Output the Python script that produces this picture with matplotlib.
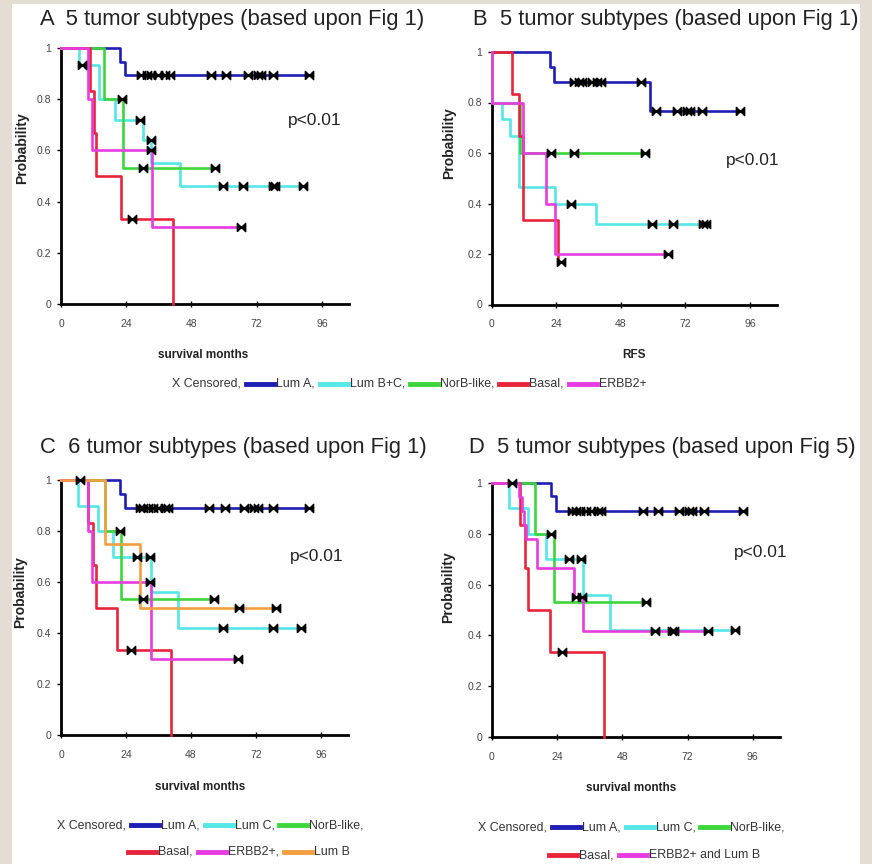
import numpy as np
import matplotlib.pyplot as plt
from matplotlib.lines import Line2D
from matplotlib.patches import Rectangle
from matplotlib.path import Path

plt.rcParams['font.family'] = ['Liberation Sans', 'DejaVu Sans']

W, H = 872, 864

# ---- data ----
month_ticks = [0, 24, 48, 72, 96]
prob_ticks = [0, 0.2, 0.4, 0.6, 0.8, 1.0]
prob_labels = ['0', '0.2', '0.4', '0.6', '0.8', '1']

colors5 = ['#1E1EB4', '#55E6E6', '#3CD63C', '#E8243C', '#E63CE0']
colors6 = colors5 + ['#F0A040']

# A: overall survival, 5 subtypes (Lum A, Lum B+C, NorB-like, Basal, ERBB2+)
A_times = [[0, 21.7, 23.5],
           [0, 6.5, 14, 20, 30.2, 33.3, 43.7],
           [0, 16, 23],
           [0, 10.5, 12, 13, 22, 41.2],
           [0, 10, 11.5, 33.5]]
A_surv = [[1, 0.947, 0.893],
          [1, 0.933, 0.8, 0.72, 0.64, 0.55, 0.46],
          [1, 0.8, 0.533],
          [1, 0.833, 0.667, 0.5, 0.333, 0],
          [1, 0.8, 0.6, 0.3]]
A_cens = [[29.6, 31.5, 33.3, 35.7, 38.2, 40.0, 55.3, 60.8, 68.8, 72.5, 73.7, 78.0, 91.4],
          [7.6, 29, 33, 59.6, 67, 78, 78.8, 89],
          [22.3, 30.2, 56.5],
          [26],
          [33, 66.3]]

# B: relapse free survival, same 5 subtypes
B_times = [[0, 21.8, 23.2, 58.8],
           [0, 0, 3.7, 6.8, 10, 23.4, 38.6],
           [0, 0, 10.5],
           [0, 7.5, 10, 11.5, 24.7],
           [0, 0, 11.5, 20.3, 23.4]]
B_surv = [[1, 0.941, 0.882, 0.765],
          [1, 0.8, 0.733, 0.667, 0.467, 0.4, 0.32],
          [1, 0.8, 0.6],
          [1, 0.833, 0.667, 0.333, 0.167],
          [1, 0.8, 0.6, 0.4, 0.2]]
B_cens = [[30.5, 32.4, 33.6, 37.4, 39.2, 40.5, 55.4, 61, 68.7, 72.6, 73.7, 78.2, 92.2],
          [29.3, 59.4, 67.2, 78.5, 79.7],
          [22.2, 30.5, 57],
          [25.9],
          [65.4]]

# C: 6 subtypes (Lum A, Lum C, NorB-like, Basal, ERBB2+, Lum B)
C_times = [[0, 21.7, 23.5],
           [0, 6.1, 13.7, 19.3, 33.4, 43.2],
           [0, 16.2, 22.3],
           [0, 10, 12, 13.1, 20.5, 40.7],
           [0, 10, 11.5, 33.4],
           [0, 16.2, 29]]
C_surv = [[1, 0.947, 0.889],
          [1, 0.9, 0.8, 0.7, 0.56, 0.42],
          [1, 0.8, 0.533],
          [1, 0.833, 0.667, 0.5, 0.333, 0],
          [1, 0.8, 0.6, 0.3],
          [1, 0.75, 0.5]]
C_cens = [[29.1, 30.3, 32.1, 34.0, 35.8, 38.3, 39.5, 54.8, 60.4, 67.7, 71.4, 72.6, 78.2, 91.7],
          [27.9, 32.8, 59.8, 78.2, 88.6],
          [21.7, 30.3, 56.4],
          [25.8],
          [32.8, 65.3],
          [7, 65.9, 79.4]]

# D: 5 subtypes (Lum A, Lum C, NorB-like, Basal, ERBB2+ and Lum B)
D_times = [[0, 21.7, 23.6],
           [0, 6.2, 13.5, 19.8, 33.5, 43.4],
           [0, 15.9, 23],
           [0, 10.5, 12.2, 13.4, 21.5, 41.2],
           [0, 10, 11, 12, 12.5, 16.7, 30.4, 33.5]]
D_surv = [[1, 0.947, 0.889],
          [1, 0.9, 0.8, 0.7, 0.56, 0.42],
          [1, 0.8, 0.533],
          [1, 0.833, 0.667, 0.5, 0.333, 0],
          [1, 0.944, 0.889, 0.833, 0.778, 0.667, 0.55, 0.417]]
D_cens = [[29.5, 31, 32.6, 34.5, 36.6, 39.1, 40.3, 55.6, 61.2, 68.9, 72.6, 73.8, 78.2, 92.4],
          [28.5, 32.9, 89.3],
          [21.7, 56.8],
          [25.8],
          [7.4, 31, 33.1, 60.2, 66.4, 66.9, 79.4]]

AB_legend = ['Lum A,', 'Lum B+C,', 'NorB-like,', 'Basal,', 'ERBB2+']
C_legend = ['Lum A,', 'Lum C,', 'NorB-like,', 'Basal,', 'ERBB2+,', 'Lum B']
D_legend = ['Lum A,', 'Lum C,', 'NorB-like,', 'Basal,', 'ERBB2+ and Lum B']

# bow-tie shaped censor mark
bowtie = Path([(-1, -1), (-1, 1), (1, -1), (1, 1), (-1, -1)])


def fx(px):
    return px / W


def fy(py):
    return 1 - py / H


def add_axes_px(fig, left, top, right, bottom):
    return fig.add_axes([fx(left), fy(bottom), (right - left) / W, (bottom - top) / H])


def km_panel(ax, times, surv, cens, cols):
    for t, s, c, col in zip(times, surv, cens, cols):
        end = max(t[-1], max(c))
        ax.step(list(t) + [end], list(s) + [s[-1]], where='post', color=col,
                lw=1.9, clip_on=False, zorder=3)
        idx = np.searchsorted(t, c, side='right') - 1
        ax.plot(c, np.array(s)[idx], ls='none', marker=bowtie, ms=6,
                color='black', zorder=5, clip_on=False)
    ax.set_xlim(0, 106)
    ax.set_ylim(0, 1)
    ax.spines[['top', 'right']].set_visible(False)
    ax.spines[['left', 'bottom']].set_linewidth(2)
    ax.set_xticks(month_ticks)
    ax.set_yticks(prob_ticks, prob_labels)
    ax.tick_params(labelsize=7.5, labelcolor='#444', width=1)
    ax.tick_params(axis='x', direction='inout', length=5, pad=8)
    ax.tick_params(axis='y', direction='out', length=3, pad=4)


def inline_legend(fig, x0, y0, labels, cols, lead=None, fs=8.9, seg=28, gap=5):
    renderer = fig.canvas.get_renderer()
    x = x0
    items = []
    if lead:
        items.append(('text', lead))
    for lab, col in zip(labels, cols):
        items.append(('line', col))
        items.append(('text', lab))
    for kind, val in items:
        if kind == 'text':
            t = fig.text(fx(x), fy(y0), val, fontsize=fs, color='#333',
                         ha='left', va='center')
            x += t.get_window_extent(renderer).width + gap
        else:
            fig.add_artist(Line2D([fx(x), fx(x + seg)], [fy(y0)] * 2, color=val,
                                  lw=3.5, transform=fig.transFigure))
            x += seg + 2


fig = plt.figure(figsize=(W / 100, H / 100), dpi=100)
fig.patch.set_facecolor('#E3DDD4')
fig.add_artist(Rectangle((fx(12), 0), (860 - 12) / W, (H - 4) / H,
                         facecolor='white', edgecolor='none',
                         transform=fig.transFigure, zorder=0))

axA = add_axes_px(fig, 61, 48, 349, 304)
axB = add_axes_px(fig, 491.7, 52, 777, 304.5)
axC = add_axes_px(fig, 61, 480, 348, 735)
axD = add_axes_px(fig, 491.7, 483, 780, 737)

km_panel(axA, A_times, A_surv, A_cens, colors5)
km_panel(axB, B_times, B_surv, B_cens, colors5)
km_panel(axC, C_times, C_surv, C_cens, colors6)
km_panel(axD, D_times, D_surv, D_cens, colors5)

title_kw = dict(fontsize=15.8, color='#222', ha='left', va='center')
fig.text(fx(40), fy(20), 'A  5 tumor subtypes (based upon Fig 1)', **title_kw)
fig.text(fx(473), fy(20), 'B  5 tumor subtypes (based upon Fig 1)', **title_kw)
fig.text(fx(40), fy(447), 'C  6 tumor subtypes (based upon Fig 1)', **title_kw)
fig.text(fx(469), fy(448), 'D  5 tumor subtypes (based upon Fig 5)', **title_kw)

ylab_kw = dict(fontsize=10, fontweight='bold', color='#222', rotation=90,
               ha='center', va='center')
fig.text(fx(22), fy(148), 'Probability', **ylab_kw)
fig.text(fx(449), fy(143), 'Probability', **ylab_kw)
fig.text(fx(20), fy(592), 'Probability', **ylab_kw)
fig.text(fx(448), fy(587), 'Probability', **ylab_kw)

xlab_kw = dict(fontsize=8.5, fontweight='bold', color='#222', ha='center', va='center')
fig.text(fx(203), fy(355), 'survival months', **xlab_kw)
fig.text(fx(634), fy(355), 'RFS', **xlab_kw)
fig.text(fx(200), fy(787), 'survival months', **xlab_kw)
fig.text(fx(631), fy(788), 'survival months', **xlab_kw)

p_kw = dict(fontsize=12.5, color='#222', ha='left', va='center')
fig.text(fx(288), fy(120), 'p<0.01', **p_kw)
fig.text(fx(726), fy(160), 'p<0.01', **p_kw)
fig.text(fx(290), fy(557), 'p<0.01', **p_kw)
fig.text(fx(734), fy(553), 'p<0.01', **p_kw)

inline_legend(fig, 172, 384, AB_legend, colors5, lead='X Censored,')
inline_legend(fig, 57, 825, C_legend[:3], colors6[:3], lead='X Censored,')
inline_legend(fig, 128, 852, C_legend[3:], colors6[3:])
inline_legend(fig, 478, 827, D_legend[:3], colors5[:3], lead='X Censored,')
inline_legend(fig, 549, 855, D_legend[3:], colors5[3:])

fig.savefig('out.png', dpi=100, facecolor=fig.get_facecolor())
